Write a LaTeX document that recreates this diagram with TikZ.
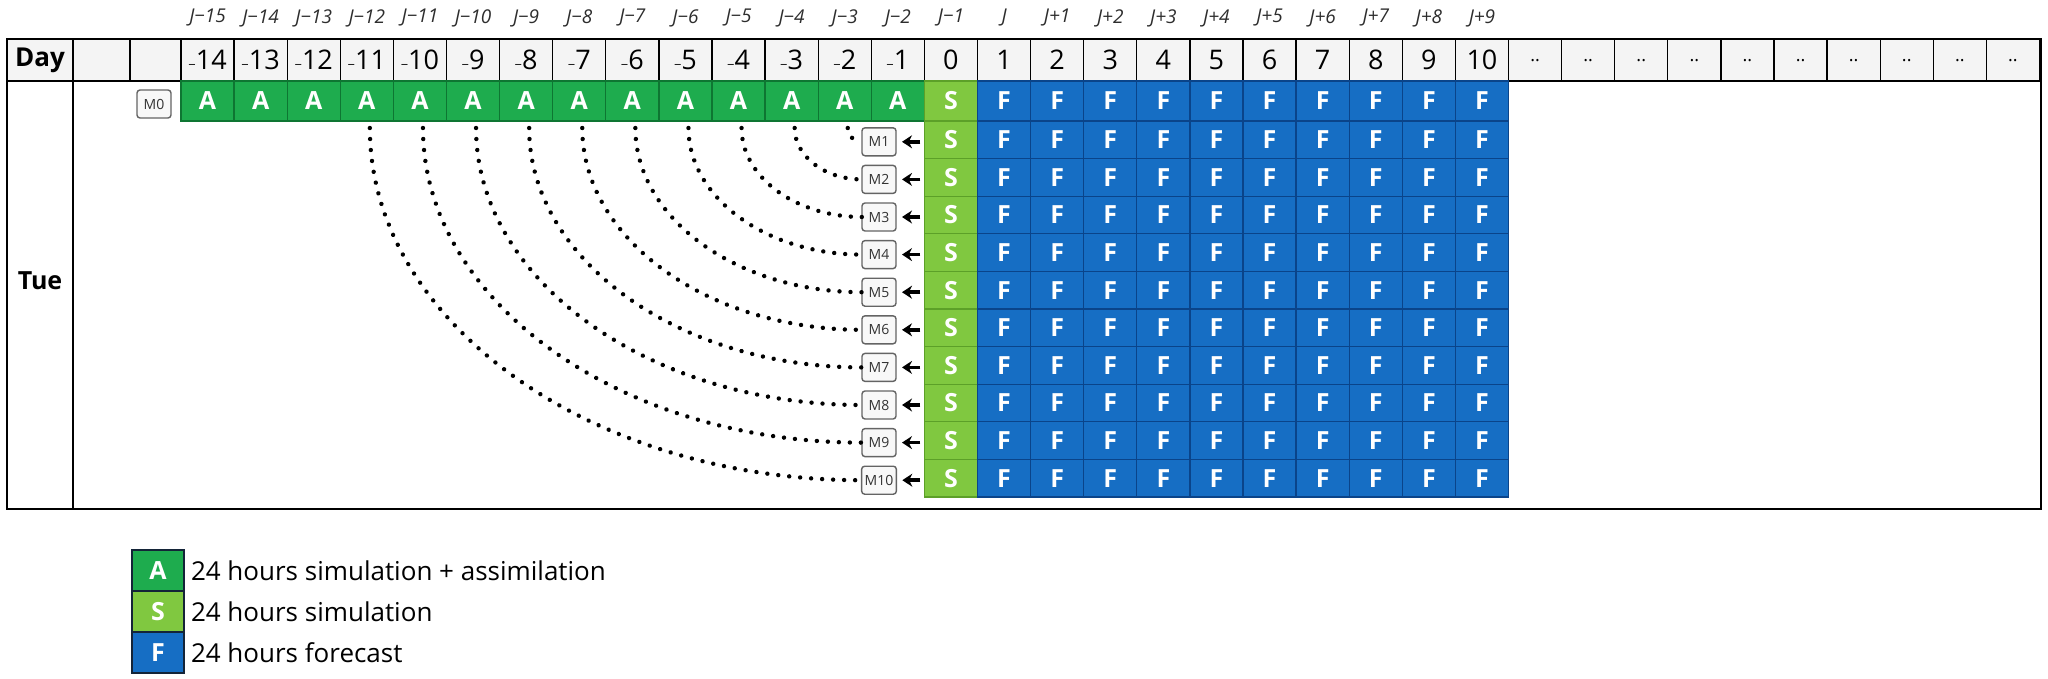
\documentclass[tikz,border=0pt]{standalone}
\usepackage{fontspec}
\setmainfont{Open Sans}
\usetikzlibrary{arrows.meta}
\definecolor{agreen}{RGB}{30,172,78}
\definecolor{agreenD}{RGB}{14,118,50}
\definecolor{sgreen}{RGB}{128,200,64}
\definecolor{sgreenD}{RGB}{92,160,40}
\definecolor{fblue}{RGB}{22,110,196}
\definecolor{fblueD}{RGB}{10,68,138}
\definecolor{hdrgrey}{RGB}{244,244,244}
\definecolor{boxgrey}{RGB}{100,100,100}
\definecolor{boxfill}{RGB}{248,248,248}
\definecolor{labgrey}{RGB}{45,45,45}
\definecolor{legborder}{RGB}{20,36,56}
\begin{document}
\begin{tikzpicture}[x=1pt,y=-1pt,
  every node/.style={inner sep=0pt, outer sep=0pt},
  hdr/.style={draw=black, line width=1.3pt, fill=hdrgrey, minimum width=53.1pt, minimum height=42pt, font=\fontsize{27}{27}\selectfont},
  toplab/.style={font=\fontsize{19}{19}\selectfont\itshape, text=labgrey},
  cellbase/.style={line width=1.3pt, minimum width=53.1pt, text=white, font=\fontsize{25}{25}\selectfont\bfseries},
  cellA/.style={cellbase, draw=agreenD, fill=agreen, minimum height=40pt},
  cellS/.style={cellbase, draw=sgreenD, fill=sgreen},
  cellF/.style={cellbase, draw=fblueD, fill=fblue},
  mbox/.style={draw=boxgrey, line width=1.4pt, rounded corners=3pt, fill=boxfill, minimum width=34pt, minimum height=28pt, inner xsep=3pt, font=\fontsize{14}{14}\selectfont, text=black!80},
  marrow/.style={-{Stealth[length=10pt,width=13pt]}, line width=3.6pt, shorten <=4pt, shorten >=6pt},
  dotline/.style={line width=4.4pt, line cap=round, dash pattern=on 0.01pt off 11pt},
  legbox/.style={draw=legborder, line width=1.5pt, minimum width=52pt, minimum height=41pt, text=white, font=\fontsize{25}{25}\selectfont\bfseries},
  legtext/.style={anchor=west, font=\fontsize{26}{26}\selectfont}
]
\useasboundingbox[fill=white] (0,0) rectangle (2048,678);

% top labels
\foreach \i in {0,...,24} {
  \pgfmathtruncatemacro\v{\i-15}
  \pgfmathtruncatemacro\av{abs(\v)}
  \node[toplab] (t\i) at ({181+53.1*(\i+0.5)},18) {J\ifnum\v<0 −\av\fi\ifnum\v>0 +\v\fi};
}

% header row
\node[hdr, minimum width=66pt, font=\fontsize{26}{26}\selectfont\bfseries] (day) at (40,60) {Day};
\node[hdr, minimum width=57pt] (hb1) at (101.5,60) {};
\node[hdr, minimum width=51pt] (hb2) at (155.5,60) {};
\foreach \i in {0,...,13} {
  \pgfmathtruncatemacro\n{14-\i}
  \node[hdr] (h\i) at ({181+53.1*(\i+0.5)},60) {{\fontsize{13}{13}\selectfont −}\n};
}
\node[hdr] (h14) at ({181+53.1*14.5},60) {0};
\foreach \i in {15,...,24} {
  \pgfmathtruncatemacro\n{\i-14}
  \node[hdr] (h\i) at ({181+53.1*(\i+0.5)},60) {\n};
}
\foreach \i in {25,...,34} {
  \node[hdr, font=\fontsize{18}{18}\selectfont] (h\i) at ({181+53.1*(\i+0.5)},60) {\raisebox{-4pt}{..}};
}

% frame
\draw[line width=2.6pt] (7,39) rectangle (2041,509);
\draw[line width=2.6pt] (73,39) -- (73,509);
\draw[line width=2.6pt] (7,81) -- (2041,81);

\node[font=\fontsize{25}{25}\selectfont\bfseries] (tue) at (40,281) {Tue};

% row 0
\node[mbox] (m0) at (154,104) {M0};
\foreach \i in {0,...,13} {
  \node[cellA] (a\i) at ({181+53.1*(\i+0.5)},101) {A};
}
\node[cellS, minimum height=40pt] (s0) at ({181+53.1*14.5},101) {S};
\foreach \j in {1,...,10} {
  \node[cellF, minimum height=40pt] (f0-\j) at ({181+53.1*(14.5+\j)},101) {F};
}

% member rows
\foreach \k in {1,...,10} {
  \pgfmathsetmacro\yc{121+37.6*(\k-0.5)}
  \node[cellS, minimum height=37.6pt] (s\k) at ({181+53.1*14.5},\yc) {S};
  \foreach \j in {1,...,10} {
    \node[cellF, minimum height=37.6pt] (f\k-\j) at ({181+53.1*(14.5+\j)},\yc) {F};
  }
  \node[mbox] (m\k) at (879,\yc+2) {M\k};
  \draw[marrow] (s\k.west |- m\k.east) -- (m\k.east);
  \pgfmathsetmacro\cx{181+53.1*(13-\k+0.5)+3}
  \coordinate (c\k) at (\cx,128);
  \pgfmathsetmacro\ca{0.55*(862-\cx)}
  \pgfmathsetmacro\cb{0.55*(\yc+2-128)}
  \draw[dotline] (c\k) .. controls +(0,\cb) and +(-\ca,0) .. (m\k.west);
}

% legend
\node[legbox, fill=agreen] (lA) at (158,570.5) {A};
\node[legbox, fill=sgreen] (lS) at (158,611.5) {S};
\node[legbox, fill=fblue] (lF) at (158,652.5) {F};
\node[legtext] (tA) at (191,570.5) {24 hours simulation + assimilation};
\node[legtext] (tS) at (191,611.5) {24 hours simulation};
\node[legtext] (tF) at (191,652.5) {24 hours forecast};
\end{tikzpicture}
\end{document}
